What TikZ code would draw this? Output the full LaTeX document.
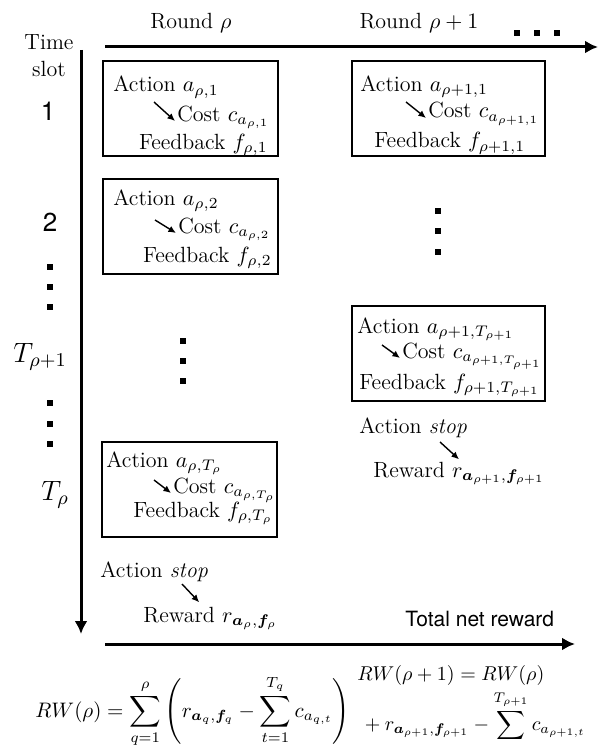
\documentclass[tikz,border=0pt]{standalone}
\usepackage{fix-cm}
\usepackage{amsmath}
\usepackage{bm}
\usepackage{fontspec}
\newfontfamily\helv{TeX Gyre Heros}
\usetikzlibrary{arrows.meta}

\begin{document}
\begin{tikzpicture}[x=0.5pt,y=-0.5pt,
	txt/.style={inner sep=0pt,font=\fontsize{11}{13}\selectfont},
	sftxt/.style={inner sep=0pt,font=\helv\fontsize{13}{15}\selectfont},
	bigtxt/.style={inner sep=0pt,font=\fontsize{14}{16}\selectfont},
	eqn/.style={inner sep=0pt,anchor=base west,font=\fontsize{10}{12}\selectfont},
	slotbox/.style={draw,line width=0.6pt,minimum height=47.5pt,inner sep=0pt},
	sq/.style={fill,rectangle,inner sep=0pt,minimum size=2.6pt},
	axis/.style={line width=1.5pt,-{Latex[length=6.5pt,width=6.5pt]}},
	tip/.style={line width=0.7pt,-{Latex[length=3.8pt,width=3.4pt]}}]

	\useasboundingbox (0,0) rectangle (599,749);
	\clip (0,0) rectangle (599,749);

	% axes
	\coordinate (rStart) at (105,47);
	\coordinate (rEnd) at (598,47);
	\coordinate (tStart) at (81,50);
	\coordinate (tEnd) at (81,634);
	\coordinate (wStart) at (105,644);
	\coordinate (wEnd) at (575,644);
	\draw[axis] (rStart) -- (rEnd);
	\draw[axis] (tStart) -- (tEnd);
	\draw[axis] (wStart) -- (wEnd);

	% round and time slot labels
	\node[txt,anchor=base] (rnd1) at (191,29) {Round $\rho$};
	\node[txt,anchor=base] (rnd2) at (419,29) {Round $\rho+1$};
	\node[sq] (rd1) at (517,33) {};
	\node[sq] (rd2) at (537,33) {};
	\node[sq] (rd3) at (557,33) {};
	\node[txt,anchor=base] (time) at (49,50) {Time};
	\node[txt,anchor=base] (slot) at (49,76) {slot};
	\node[sftxt,anchor=base] (ts1) at (48,120) {1};
	\node[sftxt,anchor=base] (ts2) at (50,231) {2};
	\node[sq] (td1) at (50,267) {};
	\node[sq] (td2) at (50,287) {};
	\node[sq] (td3) at (50,307) {};
	\node[bigtxt,anchor=base] (tsR) at (40,362) {$T_{\rho+1}$};
	\node[sq] (td4) at (50,403) {};
	\node[sq] (td5) at (50,424) {};
	\node[sq] (td6) at (50,444) {};
	\node[bigtxt,anchor=base] (tsT) at (55,500) {$T_\rho$};

	% round rho
	\node[slotbox,minimum width=87.5pt] (L1box) at (190.5,108.5) {};
	\node[txt,anchor=base west] (L1act) at (113,92) {Action $a_{\rho,1}$};
	\node[txt,anchor=base west] (L1cost) at (177,121) {Cost $c_{a_{\rho,1}}$};
	\node[txt,anchor=base east] (L1fb) at (268,149) {Feedback $f_{\rho,1}$};
	\coordinate (L1s) at (154,102);
	\draw[tip] (L1s) -- ([xshift=-1pt]L1cost.base west);

	\node[slotbox,minimum width=87.5pt] (L2box) at (190.5,226.5) {};
	\node[txt,anchor=base west] (L2act) at (113,205) {Action $a_{\rho,2}$};
	\node[txt,anchor=base west] (L2cost) at (178,233) {Cost $c_{a_{\rho,2}}$};
	\node[txt,anchor=base east] (L2fb) at (272,262) {Feedback $f_{\rho,2}$};
	\coordinate (L2s) at (155,220);
	\draw[tip] (L2s) -- ([xshift=-1pt]L2cost.base west);

	\node[sq] (md1) at (183,341) {};
	\node[sq] (md2) at (183,361) {};
	\node[sq] (md3) at (183,381) {};

	\node[slotbox,minimum width=87.5pt] (LTbox) at (189.5,489.5) {};
	\node[txt,anchor=base west] (LTact) at (106,467) {Action $a_{\rho,T_\rho}$};
	\node[txt,anchor=base west] (LTcost) at (173,493) {Cost $c_{a_{\rho,T_\rho}}$};
	\node[txt,anchor=base east] (LTfb) at (273,517) {Feedback $f_{\rho,T_\rho}$};
	\coordinate (LTs) at (154,480);
	\draw[tip] (LTs) -- ([xshift=-1pt]LTcost.base west);

	\node[txt,anchor=base west] (Lstop) at (100,577) {Action \textit{stop}};
	\node[txt,anchor=base west] (Lrew) at (143,622) {Reward $r_{\bm a_\rho,\bm f_\rho}$};
	\coordinate (Ls) at (182,584);
	\draw[tip] (Ls) -- ([xshift=-5.5pt,yshift=2pt]Lrew.north);

	% round rho+1
	\node[slotbox,minimum width=96.5pt] (R1box) at (448.5,108.5) {};
	\node[txt,anchor=base west] (R1act) at (360,91) {Action $a_{\rho+1,1}$};
	\node[txt,anchor=base west] (R1cost) at (428,118) {Cost $c_{a_{\rho+1,1}}$};
	\node[txt,anchor=base west] (R1fb) at (374,148) {Feedback $f_{\rho+1,1}$};
	\coordinate (R1s) at (406,102);
	\draw[tip] (R1s) -- ([xshift=-1pt]R1cost.base west);

	\node[sq] (rc1) at (438,211) {};
	\node[sq] (rc2) at (438,231) {};
	\node[sq] (rc3) at (438,252) {};

	\node[slotbox,minimum width=96.5pt] (RTbox) at (448.5,353.5) {};
	\node[txt,anchor=base west] (RTact) at (357,333) {Action $a_{\rho+1,T_{\rho+1}}$};
	\node[txt,anchor=base west] (RTcost) at (402,358) {Cost $c_{a_{\rho+1,T_{\rho+1}}}$};
	\node[txt,anchor=base west] (RTfb) at (359,389) {Feedback $f_{\rho+1,T_{\rho+1}}$};
	\coordinate (RTs) at (382,345);
	\draw[tip] (RTs) -- ([xshift=-1pt]RTcost.base west);

	\node[txt,anchor=base west] (Rstop) at (359,433) {Action \textit{stop}};
	\node[txt,anchor=base west] (Rrew) at (373,477) {Reward $r_{\bm a_{\rho+1},\bm f_{\rho+1}}$};
	\coordinate (Rs) at (440,442);
	\draw[tip] (Rs) -- ([yshift=1pt]Rrew.north);

	% total net reward
	\node[inner sep=0pt,anchor=base west,font=\helv\fontsize{10.5}{12}\selectfont] (tot) at (405,626) {Total net reward};
	\node[eqn,font=\fontsize{10.5}{12}\selectfont] (rwL) at (35,717) {$\displaystyle RW(\rho)=\sum_{q=1}^{\rho}\left(r_{\bm a_q,\bm f_q}-\sum_{t=1}^{T_q}c_{a_{q,t}}\right)$};
	\node[eqn] (rwR1) at (357,680) {$RW(\rho+1)=RW(\rho)$};
	\node[eqn] (rwR2) at (360,730) {$\displaystyle {}+r_{\bm a_{\rho+1},\bm f_{\rho+1}}-\sum^{T_{\rho+1}}c_{a_{\rho+1,t}}$};
\end{tikzpicture}
\end{document}
